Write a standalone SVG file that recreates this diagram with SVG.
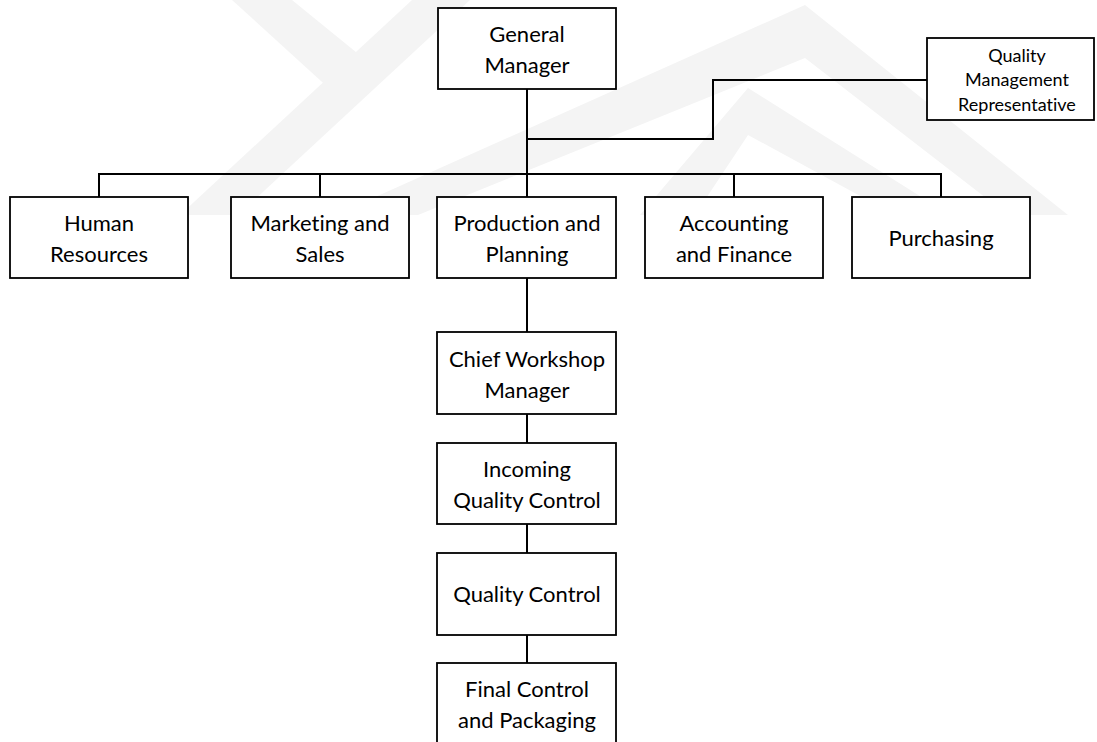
<svg xmlns="http://www.w3.org/2000/svg" width="1097" height="742" viewBox="0 0 1097 742">
  <style>
    .box { fill: #ffffff; stroke: #000000; stroke-width: 1.8; }
    .wire { fill: none; stroke: #000000; stroke-width: 2; }
    .lbl { font-family: Lato, "Liberation Sans", sans-serif; font-size: 22px; fill: #000000; text-anchor: middle; font-variant-ligatures: none; font-feature-settings: "liga" 0; }
    .lbl-sm { font-family: Lato, "Liberation Sans", sans-serif; font-size: 18px; fill: #000000; text-anchor: middle; font-variant-ligatures: none; font-feature-settings: "liga" 0; }
    .mark { fill: #f4f4f4; }
  </style>

  <rect x="0" y="0" width="1097" height="742" fill="#ffffff"/>

  <!-- faint background emblem -->
  <g id="emblem">
    <polygon class="mark" points="180,215 238,215 470,0 412,0"/>
    <polygon class="mark" points="232,0 292,0 378,70 344,102"/>
    <polygon class="mark" points="335,215 805,5 1068,215 1008,215 805,58 418,215"/>
    <polygon class="mark" points="640,215 748,88 950,215 895,215 748,135 695,215"/>
  </g>

  <!-- connectors -->
  <g id="connectors">
    <path class="wire" d="M527,89 V197"/>
    <path class="wire" d="M99,197 V174 H941 V197"/>
    <path class="wire" d="M320,174 V197"/>
    <path class="wire" d="M734,174 V197"/>
    <path class="wire" d="M527,139 H713 V80 H927"/>
    <path class="wire" d="M527,278 V332"/>
    <path class="wire" d="M527,414 V443"/>
    <path class="wire" d="M527,524 V553"/>
    <path class="wire" d="M527,635 V663"/>
  </g>

  <g id="general-manager">
    <rect class="box" x="438" y="8" width="178" height="81"/>
    <text class="lbl" x="527" y="42">General</text>
    <text class="lbl" x="527" y="73">Manager</text>
  </g>

  <g id="quality-management-representative">
    <rect class="box" x="927" y="38" width="167" height="82"/>
    <text class="lbl-sm" x="1017" y="62">Quality</text>
    <text class="lbl-sm" x="1017" y="86">Management</text>
    <text class="lbl-sm" x="1017" y="111">Representative</text>
  </g>

  <g id="human-resources">
    <rect class="box" x="10" y="197" width="178" height="81"/>
    <text class="lbl" x="99" y="231">Human</text>
    <text class="lbl" x="99" y="262">Resources</text>
  </g>

  <g id="marketing-and-sales">
    <rect class="box" x="231" y="197" width="178" height="81"/>
    <text class="lbl" x="320" y="231">Marketing and</text>
    <text class="lbl" x="320" y="262">Sales</text>
  </g>

  <g id="production-and-planning">
    <rect class="box" x="437" y="197" width="179" height="81"/>
    <text class="lbl" x="527" y="231">Production and</text>
    <text class="lbl" x="527" y="262">Planning</text>
  </g>

  <g id="accounting-and-finance">
    <rect class="box" x="645" y="197" width="178" height="81"/>
    <text class="lbl" x="734" y="231">Accounting</text>
    <text class="lbl" x="734" y="262">and Finance</text>
  </g>

  <g id="purchasing">
    <rect class="box" x="852" y="197" width="178" height="81"/>
    <text class="lbl" x="941" y="246">Purchasing</text>
  </g>

  <g id="chief-workshop-manager">
    <rect class="box" x="437" y="332" width="179" height="82"/>
    <text class="lbl" x="527" y="367">Chief Workshop</text>
    <text class="lbl" x="527" y="398">Manager</text>
  </g>

  <g id="incoming-quality-control">
    <rect class="box" x="437" y="443" width="179" height="81"/>
    <text class="lbl" x="527" y="477">Incoming</text>
    <text class="lbl" x="527" y="508">Quality Control</text>
  </g>

  <g id="quality-control">
    <rect class="box" x="437" y="553" width="179" height="82"/>
    <text class="lbl" x="527" y="602">Quality Control</text>
  </g>

  <g id="final-control-and-packaging">
    <rect class="box" x="437" y="663" width="179" height="82"/>
    <text class="lbl" x="527" y="697">Final Control</text>
    <text class="lbl" x="527" y="728">and Packaging</text>
  </g>
</svg>
